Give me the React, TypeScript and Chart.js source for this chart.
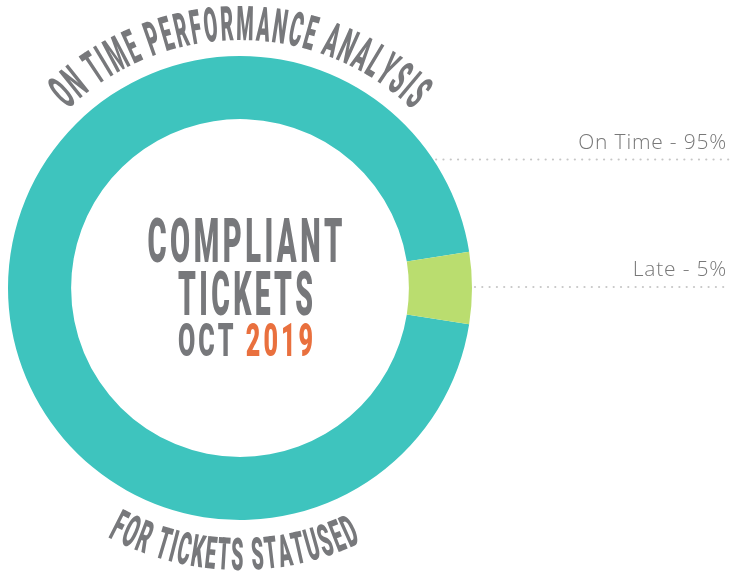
import React, { useEffect, useRef } from "react";
import { Chart, registerables } from "chart.js";

Chart.register(...registerables);

// ---- data ----
const categories = ["On Time", "Late"];
const values = [95, 5];
const colors = ["#3ec4be", "#badd6f"];
const titleTop = "ON TIME PERFORMANCE ANALYSIS";
const titleBottom = "FOR TICKETS STATUSED";
const centerLines = ["COMPLIANT", "TICKETS"];
const centerMonth = "OCT ";
const centerYear = "2019";

// ---- style ----
const GRAY = "#77787b";
const ORANGE = "#e9703e";
const LABEL_GRAY = "#787878";
const DOT_GRAY = "#c6c6c6";
const COND_FONT = "Roboto";
const LABEL_LINE_Y = [159.5, 287];

function drawArcText(
  ctx: CanvasRenderingContext2D,
  text: string,
  cx: number,
  cy: number,
  radius: number,
  centerDeg: number,
  spanDeg: number,
  fontPx: number,
  gapEm: number,
  bottom: boolean
) {
  ctx.save();
  ctx.font = `900 ${fontPx}px ${COND_FONT}`;
  ctx.fillStyle = GRAY;
  ctx.textAlign = "center";
  ctx.textBaseline = "alphabetic";
  const chars = [...text];
  const gap = gapEm * fontPx;
  const widths = chars.map((c) => ctx.measureText(c).width);
  const total = widths.reduce((a, b) => a + b, 0) + gap * (chars.length - 1);
  const spanRad = (spanDeg * Math.PI) / 180;
  const sx = (spanRad * radius) / total;
  let acc = 0;
  chars.forEach((ch, i) => {
    const mid = acc + widths[i] / 2;
    acc += widths[i] + gap;
    const off = (mid / total - 0.5) * spanRad;
    let x: number, y: number, rot: number;
    if (!bottom) {
      const a = (centerDeg * Math.PI) / 180 + off;
      x = cx + radius * Math.sin(a);
      y = cy - radius * Math.cos(a);
      rot = a;
    } else {
      const b = (centerDeg * Math.PI) / 180 - off;
      x = cx - radius * Math.sin(b);
      y = cy + radius * Math.cos(b);
      rot = b;
    }
    ctx.save();
    ctx.translate(x, y);
    ctx.rotate(rot);
    ctx.scale(sx, 1);
    ctx.fillText(ch, 0, 0);
    ctx.restore();
  });
  ctx.restore();
}

function drawCondensed(
  ctx: CanvasRenderingContext2D,
  parts: { text: string; color: string }[],
  cx: number,
  baseline: number,
  fontPx: number,
  targetW: number,
  gapEm: number
) {
  ctx.save();
  ctx.font = `900 ${fontPx}px ${COND_FONT}`;
  ctx.textAlign = "left";
  ctx.textBaseline = "alphabetic";
  const gap = gapEm * fontPx;
  const items: { ch: string; color: string; w: number }[] = [];
  parts.forEach((p) => {
    [...p.text].forEach((ch) => items.push({ ch, color: p.color, w: ctx.measureText(ch).width }));
  });
  const total = items.reduce((a, it) => a + it.w, 0) + gap * (items.length - 1);
  const sx = targetW / total;
  ctx.translate(cx - targetW / 2, baseline);
  ctx.scale(sx, 1);
  let x = 0;
  items.forEach((it) => {
    ctx.fillStyle = it.color;
    ctx.fillText(it.ch, x, 0);
    x += it.w + gap;
  });
  ctx.restore();
}

const decorPlugin = {
  id: "decor",
  afterDraw(chart: any) {
    const ctx: CanvasRenderingContext2D = chart.ctx;
    const arc = chart.getDatasetMeta(0).data[0];
    const cx = arc.x;
    const cy = arc.y;
    const R = arc.outerRadius;

    // curved titles
    drawArcText(ctx, titleTop, cx, cy, R + 16, 0, 88, 48, 0.1, false);
    drawArcText(ctx, titleBottom, cx, cy, R + 50, 1.25, 53.5, 45, 0.1, true);

    // center text
    drawCondensed(ctx, [{ text: centerLines[0], color: GRAY }], cx + 5, 262, 62, 195, 0.12);
    drawCondensed(ctx, [{ text: centerLines[1], color: GRAY }], cx + 5.5, 315, 61, 135, 0.12);
    drawCondensed(
      ctx,
      [
        { text: centerMonth, color: GRAY },
        { text: centerYear, color: ORANGE },
      ],
      cx + 5.5,
      356,
      46,
      135,
      0.12
    );

    // right labels with dotted leaders
    const W = chart.width;
    categories.forEach((cat, i) => {
      const ly = LABEL_LINE_Y[i];
      const dy = ly - cy;
      const startX = cx + Math.sqrt(Math.max(0, R * R - dy * dy)) + 3;
      ctx.save();
      ctx.fillStyle = DOT_GRAY;
      for (let x = startX; x < W; x += 7.3) {
        ctx.beginPath();
        ctx.arc(x, ly, 1.1, 0, Math.PI * 2);
        ctx.fill();
      }
      ctx.fillStyle = LABEL_GRAY;
      ctx.font = `300 21px "Open Sans"`;
      (ctx as any).letterSpacing = "0.8px";
      ctx.textAlign = "right";
      ctx.textBaseline = "alphabetic";
      ctx.fillText(`${cat} - ${values[i]}%`, W - 3, ly - 11);
      ctx.restore();
    });
  },
};

export default function App() {
  const ref = useRef<HTMLCanvasElement>(null);
  useEffect(() => {
    if (!ref.current) return;
    const total = values.reduce((a, b) => a + b, 0);
    const chart = new Chart(ref.current, {
      type: "doughnut",
      data: {
        labels: categories,
        datasets: [
          {
            data: values,
            backgroundColor: colors,
            borderWidth: 0,
            hoverOffset: 0,
          },
        ],
      },
      options: {
        responsive: false,
        animation: false,
        cutout: "72.8%",
        rotation: 90 + (values[1] / total) * 180,
        layout: { padding: { left: 8, top: 56, right: 258, bottom: 56 } },
        plugins: {
          legend: { display: false },
          tooltip: { enabled: false },
        },
        events: [],
      },
      plugins: [decorPlugin],
    });
    return () => chart.destroy();
  }, []);
  return (
    <div style={{ position: "fixed", left: 0, top: 0, width: 730, height: 576, background: "#fff" }}>
      <canvas ref={ref} width={730} height={576} style={{ display: "block" }} />
    </div>
  );
}
